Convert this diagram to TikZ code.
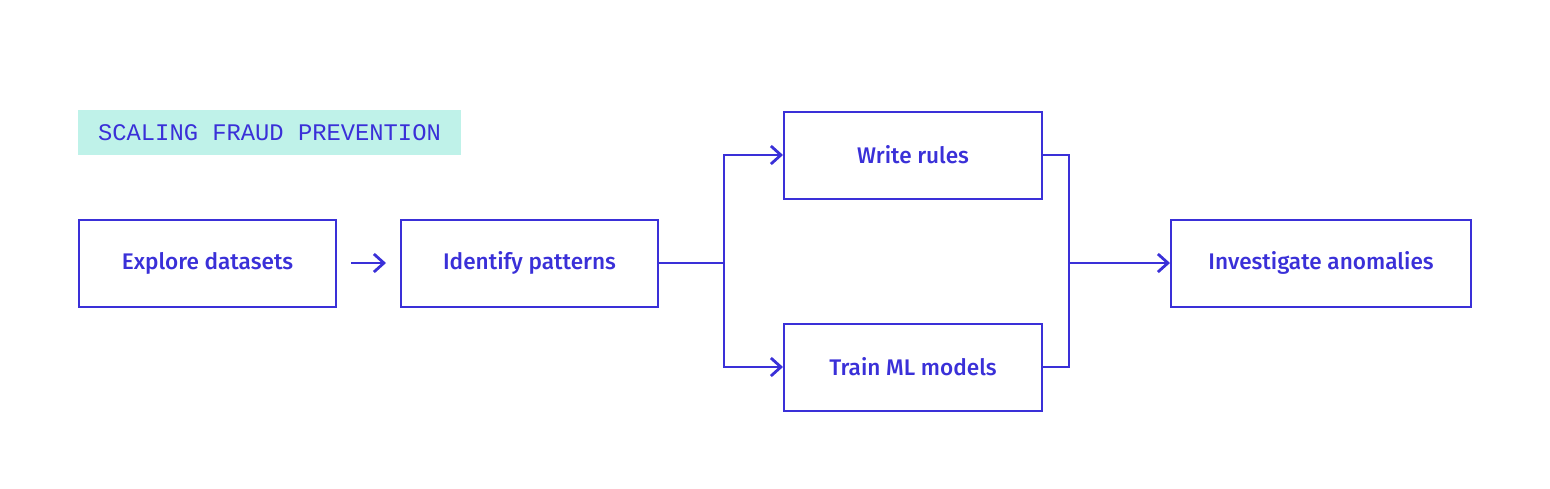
\documentclass[tikz,border=0pt]{standalone}
\usepackage{fontspec}
\setmainfont{Fira Sans}[UprightFont=* Medium]
\setmonofont{Liberation Mono}
\usetikzlibrary{arrows.meta}
\definecolor{blu}{HTML}{3A30D8}
\definecolor{mint}{HTML}{BFF2E9}
\begin{document}
\begin{tikzpicture}[x=0.5pt,y=-0.5pt,
  box/.style={draw=blu,line width=1pt,text=blu,font=\fontsize{11.3}{13}\selectfont,inner sep=0pt},
  ln/.style={draw=blu,line width=1.4pt},
  ar/.style={ln,-{Straight Barb[length=5pt,width=9pt]}}]
\useasboundingbox (0,0) rectangle (1550,488);
\node[fill=mint,minimum width=383*0.5pt,minimum height=45*0.5pt,text=blu,font=\ttfamily\fontsize{11.9}{12}\selectfont] (lab) at (269.5,132.5) {SCALING FRAUD PREVENTION};
\node[box,minimum width=257*0.5pt,minimum height=87*0.5pt] (a) at (207.5,263) {Explore datasets};
\node[box,minimum width=257*0.5pt,minimum height=87*0.5pt] (b) at (529.5,263) {Identify patterns};
\node[box,minimum width=258*0.5pt,minimum height=87*0.5pt] (c) at (913,155) {Write rules};
\node[box,minimum width=258*0.5pt,minimum height=87*0.5pt] (d) at (913,367) {Train ML models};
\node[box,minimum width=300*0.5pt,minimum height=87*0.5pt] (e) at (1321,263) {Investigate anomalies};
\coordinate (s1) at (351,263);
\coordinate (t1) at (386,263);
\draw[ar] (s1) -- (t1);
\coordinate (j1) at (724,263);
\coordinate (j2) at (1069,263);
\draw[ln] (b.east) -- (j1);
\draw[ar] (j1) |- (c.west);
\draw[ar] (j1) |- (d.west);
\draw[ln] (c.east) -| (j2);
\draw[ln] (d.east) -| (j2);
\draw[ar] (j2) -- (e.west);
\end{tikzpicture}
\end{document}
